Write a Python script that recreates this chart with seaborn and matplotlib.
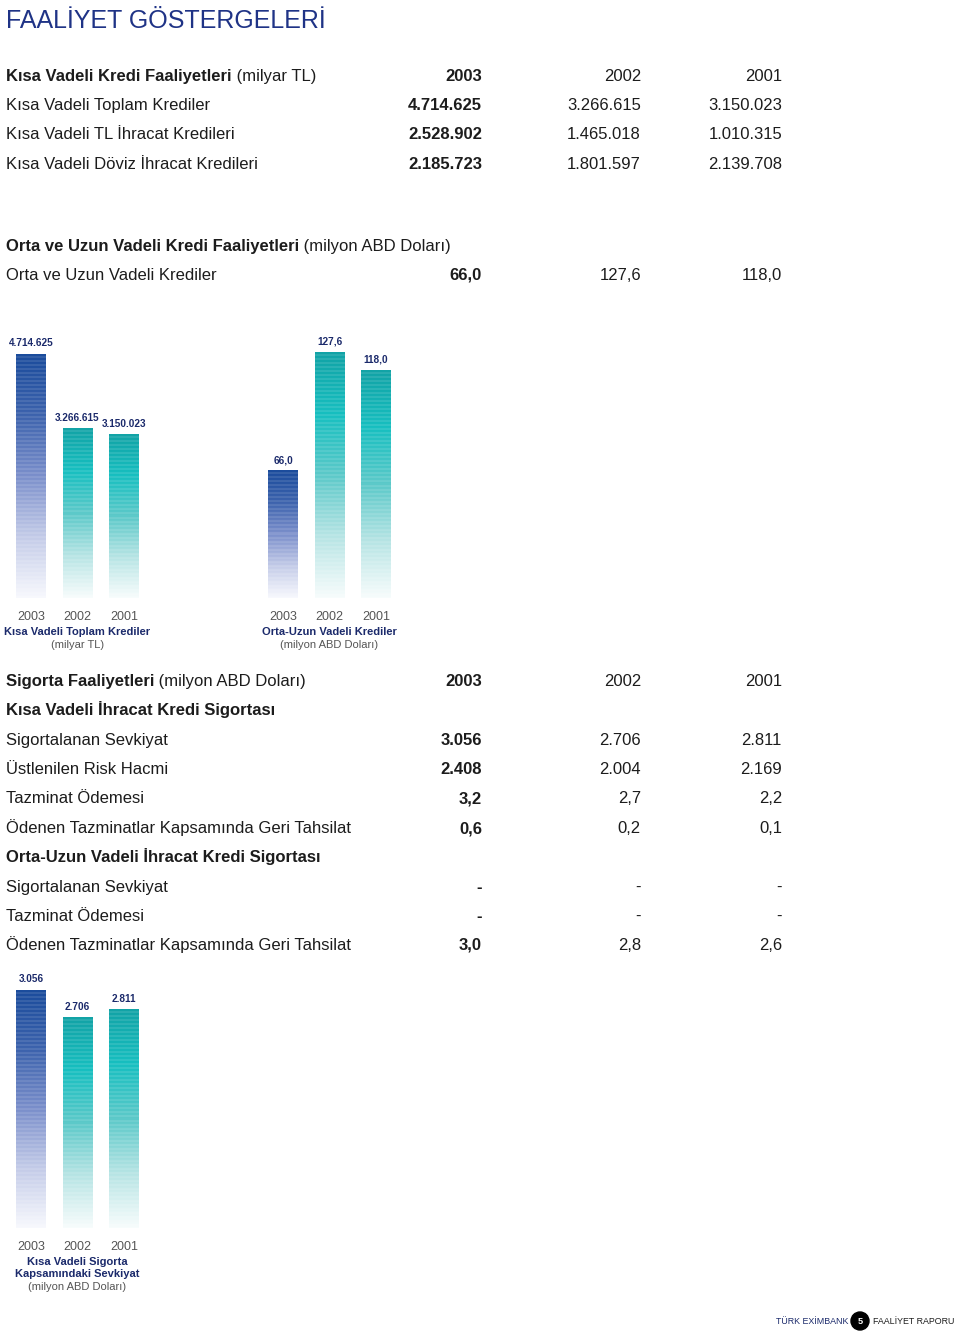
import numpy as np
import matplotlib
matplotlib.use("Agg")
import matplotlib.pyplot as plt
import seaborn as sns
from matplotlib.colors import LinearSegmentedColormap
from matplotlib.patches import Circle

# ---- data -------------------------------------------------------------
years = ["2003", "2002", "2001"]

short_total = [4714625, 3266615, 3150023]
short_tl_export = [2528902, 1465018, 1010315]
short_fx_export = [2185723, 1801597, 2139708]

medium_long = [66.0, 127.6, 118.0]

ins_short_shipment = [3056, 2706, 2811]
ins_short_risk = [2408, 2004, 2169]
ins_short_claims = [3.2, 2.7, 2.2]
ins_short_recovery = [0.6, 0.2, 0.1]

ins_ml_shipment = [None, None, None]
ins_ml_claims = [None, None, None]
ins_ml_recovery = [3.0, 2.8, 2.6]

# ---- style ------------------------------------------------------------
sns.set_style("white")
plt.rcParams["font.family"] = ["Liberation Sans", "DejaVu Sans"]

NAVY = "#1b2a6b"
TITLE_BLUE = "#1f3386"
TEXT = "#1c1c1c"
GREY = "#555555"
BLUE_STOPS = ["#1b4c9c", "#3d63ad", "#7b8fcb", "#c3cbe8", "#f7f8fd"]
TEAL_STOPS = ["#12a3a6", "#17bfc0", "#5cc9c9", "#b6e4e4", "#f7fcfc"]
TSIZE = 12

W, H = 960, 1334
fig = plt.figure(figsize=(W / 100, H / 100), dpi=100)

canvas = fig.add_axes([0, 0, 1, 1])
canvas.set_xlim(0, W)
canvas.set_ylim(H, 0)
canvas.axis("off")


def thousands(v):
    return f"{v:,}".replace(",", ".")


def decimal1(v):
    return f"{v:.1f}".replace(".", ",")


def dash(v, fmt):
    return "-" if v is None else fmt(v)


def heading(x, y, bold, rest=None, size=TSIZE):
    t = canvas.text(x, y, bold, fontsize=size, fontweight="bold", color=TEXT,
                    va="baseline")
    if rest:
        canvas.annotate(rest, xy=(1, 0), xycoords=t, fontsize=size,
                        color=TEXT, va="bottom", ha="left")
    return t


COLS = [482, 641, 782]


def row(y, label, values, fmt, size=TSIZE):
    canvas.text(6, y, label, fontsize=size, color=TEXT, va="baseline")
    for i, (cx, v) in enumerate(zip(COLS, values)):
        canvas.text(cx, y, dash(v, fmt), fontsize=size, color=TEXT,
                    ha="right", va="baseline",
                    fontweight="bold" if i == 0 else "normal")


def year_header(y, size=TSIZE):
    for i, (cx, yr) in enumerate(zip(COLS, years)):
        canvas.text(cx, y, yr, fontsize=size, color=TEXT, ha="right",
                    va="baseline", fontweight="bold" if i == 0 else "normal")


# title
canvas.text(6, 28, "FAALİYET GÖSTERGELERİ", fontsize=18, color=TITLE_BLUE,
            va="baseline")

# short term credit table
heading(6, 81, "Kısa Vadeli Kredi Faaliyetleri", " (milyar TL)")
year_header(81)
row(110, "Kısa Vadeli Toplam Krediler", short_total, thousands)
row(139, "Kısa Vadeli TL İhracat Kredileri", short_tl_export, thousands)
row(169, "Kısa Vadeli Döviz İhracat Kredileri", short_fx_export, thousands)

# medium / long term
heading(6, 251, "Orta ve Uzun Vadeli Kredi Faaliyetleri", " (milyon ABD Doları)")
row(280, "Orta ve Uzun Vadeli Krediler", medium_long, decimal1)

# insurance table
heading(6, 686, "Sigorta Faaliyetleri", " (milyon ABD Doları)")
year_header(686)
heading(6, 715, "Kısa Vadeli İhracat Kredi Sigortası")
row(745, "Sigortalanan Sevkiyat", ins_short_shipment, thousands)
row(774, "Üstlenilen Risk Hacmi", ins_short_risk, thousands)
row(803, "Tazminat Ödemesi", ins_short_claims, decimal1)
row(833, "Ödenen Tazminatlar Kapsamında Geri Tahsilat", ins_short_recovery, decimal1)
heading(6, 862, "Orta-Uzun Vadeli İhracat Kredi Sigortası")
row(892, "Sigortalanan Sevkiyat", ins_ml_shipment, decimal1)
row(921, "Tazminat Ödemesi", ins_ml_claims, decimal1)
row(950, "Ödenen Tazminatlar Kapsamında Geri Tahsilat", ins_ml_recovery, decimal1)


# ---- bar charts ---------------------------------------------------------
def striped_gradient(stops, n_rows):
    cmap = LinearSegmentedColormap.from_list("g", stops)
    rgb = np.array([cmap(t)[:3] for t in np.linspace(0, 1, n_rows)])
    stripe = (np.arange(n_rows) // 2) % 2 == 1
    rgb[stripe] = rgb[stripe] * 0.9 + 0.1
    return rgb[:, None, :]


def bar_chart(center_x, bottom_y, top_y, values, fmt, title, unit):
    spacing = 46.5
    left = center_x - 0.5 * spacing
    height_px = bottom_y - top_y
    ax = fig.add_axes([left / W, (H - bottom_y) / H,
                       3 * spacing / W, height_px / H])
    sns.barplot(x=years, y=values, ax=ax, width=0.645, color="white",
                edgecolor="none", saturation=1)
    ax.patch.set_alpha(0)
    sns.despine(ax=ax, left=True, bottom=True)
    ax.set_yticks([])
    ax.set_ylabel("")
    ax.set_xlabel("")
    ax.tick_params(axis="x", length=0, pad=9, labelsize=9, labelcolor=GREY)
    for i, (p, v) in enumerate(zip(ax.patches, values)):
        x0, y0 = p.get_x(), p.get_y()
        x1, y1 = x0 + p.get_width(), y0 + p.get_height()
        rows = max(int(height_px * p.get_height() / max(values)), 4)
        img = striped_gradient(BLUE_STOPS if i == 0 else TEAL_STOPS, rows)
        ax.imshow(img, extent=[x0, x1, y0, y1], aspect="auto",
                  interpolation="nearest", zorder=2)
        ax.annotate(fmt(v), xy=((x0 + x1) / 2, y1), xytext=(0, 4),
                    textcoords="offset points", ha="center", va="bottom",
                    fontsize=7.2, fontweight="bold", color=NAVY,
                    annotation_clip=False)
    ax.set_xlim(-0.5, 2.5)
    ax.set_ylim(0, max(values))
    y = bottom_y + 34
    for ln in title.split("\n"):
        canvas.text(center_x + spacing, y, ln, fontsize=8, fontweight="bold",
                    color=NAVY, ha="center", va="center")
        y += 12
    canvas.text(center_x + spacing, y + 1, unit, fontsize=8, color=GREY,
                ha="center", va="center")
    return ax


bar_chart(31, 598, 354, short_total, thousands,
          "Kısa Vadeli Toplam Krediler", "(milyar TL)")
bar_chart(283, 598, 352, medium_long, decimal1,
          "Orta-Uzun Vadeli Krediler", "(milyon ABD Doları)")
bar_chart(31, 1228, 990, ins_short_shipment, thousands,
          "Kısa Vadeli Sigorta\nKapsamındaki Sevkiyat", "(milyon ABD Doları)")

# ---- footer -------------------------------------------------------------
canvas.text(848, 1321, "TÜRK EXİMBANK", fontsize=6.4, color=NAVY,
            ha="right", va="center")
canvas.add_patch(Circle((860, 1321), 9, color="black"))
canvas.text(860, 1321, "5", fontsize=6.6, color="white", fontweight="bold",
            ha="center", va="center")
canvas.text(873, 1321, "FAALİYET RAPORU", fontsize=6.4, color=TEXT,
            ha="left", va="center")

fig.savefig("out.png", dpi=100, facecolor="white")
